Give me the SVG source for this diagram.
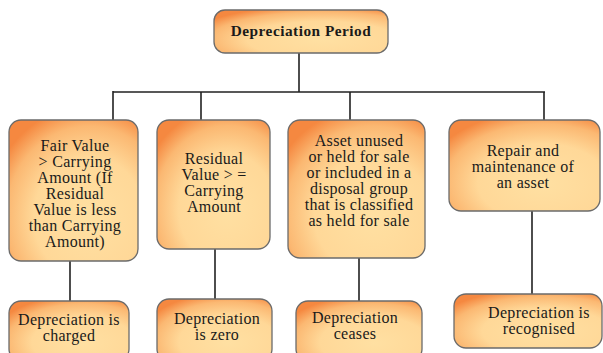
<svg xmlns="http://www.w3.org/2000/svg" width="603" height="353" viewBox="0 0 603 353">
<defs>
<radialGradient id="g" cx="0.62" cy="0.68" r="0.78" fx="0.62" fy="0.7">
<stop offset="0" stop-color="#FFE0A2"/>
<stop offset="0.55" stop-color="#FFD898"/>
<stop offset="0.82" stop-color="#FBB872"/>
<stop offset="1" stop-color="#F58840"/>
</radialGradient>
<style>
.box{fill:url(#g);stroke:#6b6b6b;stroke-width:1.3}
.t{font-family:"Liberation Serif",serif;font-size:16px;letter-spacing:0.3px;fill:#1a1a1a;text-anchor:middle}
.b{font-weight:bold;font-size:15.3px;letter-spacing:0.5px}
.c{stroke:#222;stroke-width:1.6;fill:none}
</style>
</defs>
<g id="connectors">
<path class="c" d="M299,53V92M113,92H545M113,91V120M201,92V120M350,92V120M544,92V120"/>
<path class="c" d="M70,261V301M215,249V299M359,258V301M532,211V294"/>
</g>
<g id="n0"><rect class="box" x="214" y="10" width="174" height="43" rx="11"/>
<text class="t b" x="301" y="36">Depreciation Period</text></g>
<g id="n1"><rect class="box" x="9" y="120" width="129" height="141" rx="12"/>
<text class="t" x="75"><tspan x="75" y="151">Fair Value</tspan><tspan x="75" y="167">&gt; Carrying</tspan><tspan x="75" y="183">Amount (If</tspan><tspan x="75" y="199">Residual</tspan><tspan x="75" y="215">Value is less</tspan><tspan x="75" y="231">than Carrying</tspan><tspan x="75" y="247">Amount)</tspan></text></g>
<g id="n2"><rect class="box" x="157" y="120" width="113" height="129" rx="12"/>
<text class="t"><tspan x="214" y="164">Residual</tspan><tspan x="214" y="180">Value &gt; =</tspan><tspan x="214" y="196">Carrying</tspan><tspan x="214" y="212">Amount</tspan></text></g>
<g id="n3"><rect class="box" x="288" y="120" width="137" height="138" rx="12"/>
<text class="t"><tspan x="359" y="146">Asset unused</tspan><tspan x="359" y="162">or held for sale</tspan><tspan x="359" y="178">or included in a</tspan><tspan x="359" y="194">disposal group</tspan><tspan x="359" y="210">that is classified</tspan><tspan x="359" y="226">as held for sale</tspan></text></g>
<g id="n4"><rect class="box" x="449" y="120" width="151" height="91" rx="12"/>
<text class="t"><tspan x="523" y="156">Repair and</tspan><tspan x="523" y="172">maintenance of</tspan><tspan x="523" y="188">an asset</tspan></text></g>
<g id="n5"><rect class="box" x="9" y="301" width="120" height="60" rx="12"/>
<text class="t"><tspan x="69" y="325">Depreciation is</tspan><tspan x="69" y="341">charged</tspan></text></g>
<g id="n6"><rect class="box" x="157" y="299" width="115" height="62" rx="12"/>
<text class="t"><tspan x="217" y="324">Depreciation</tspan><tspan x="217" y="340">is zero</tspan></text></g>
<g id="n7"><rect class="box" x="296" y="301" width="126" height="60" rx="12"/>
<text class="t"><tspan x="355" y="323">Depreciation</tspan><tspan x="355" y="339">ceases</tspan></text></g>
<g id="n8"><rect class="box" x="454" y="294" width="148" height="54" rx="12"/>
<text class="t"><tspan x="539" y="318">Depreciation is</tspan><tspan x="539" y="334">recognised</tspan></text></g>
</svg>
